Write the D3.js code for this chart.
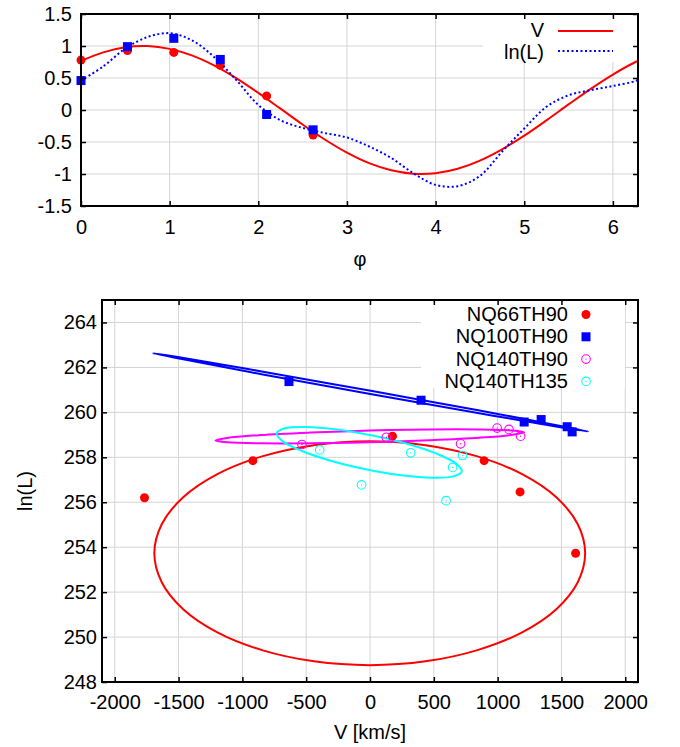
<!DOCTYPE html>
<html>
<head>
<meta charset="utf-8">
<script src="https://cdn.jsdelivr.net/npm/d3@7"></script>
<style>
  body { margin: 0; background: #fff; }
  text { font-family: "Liberation Sans", Arial, sans-serif; font-size: 20px; fill: #000; }
</style>
</head>
<body>
<svg id="chart" width="680" height="747"></svg>
<script>
// ---- top panel: phase curves ----
const phiPts  = [0, 0.524, 1.047, 1.571, 2.094, 2.618];
const vPts    = [0.78, 0.93, 0.90, 0.70, 0.22, -0.39];
const lnLPts  = [0.46, 0.99, 1.12, 0.79, -0.07, -0.31];

const phiCurve = [0, 0.25, 0.5, 0.75, 1, 1.25, 1.5, 1.75, 2, 2.25, 2.5, 2.75, 3, 3.25,
                  3.5, 3.75, 4, 4.25, 4.5, 4.75, 5, 5.25, 5.5, 5.75, 6, 6.25, 6.283];
const vCurve   = [0.765, 0.90, 0.98, 0.999, 0.955, 0.853, 0.697, 0.498, 0.267, 0.021, -0.227,
                  -0.461, -0.666, -0.83, -0.942, -0.996, -0.987, -0.918, -0.791, -0.615, -0.401,
                  -0.162, 0.087, 0.331, 0.554, 0.746, 0.765];
const lnLCurve = [0.46, 0.68, 0.96, 1.14, 1.20, 1.09, 0.83, 0.47, 0.08, -0.16, -0.28, -0.36,
                  -0.43, -0.57, -0.75, -0.99, -1.17, -1.19, -1.03, -0.65, -0.29, 0.05, 0.23,
                  0.31, 0.375, 0.45, 0.47];

const topXTicks = [0, 1, 2, 3, 4, 5, 6];
const topYTicks = [-1.5, -1, -0.5, 0, 0.5, 1, 1.5];

// ---- bottom panel: V vs ln(L) ----
const names = ['NQ66TH90', 'NQ100TH90', 'NQ140TH90', 'NQ140TH135'];
const colors = ['#ff0000', '#0000ff', '#ff00ff', '#00ffff'];

const v66  = [-1767, -918, 176, 894, 1176, 1611];
const l66  = [256.2, 257.85, 258.94, 257.85, 256.46, 253.73];
const v100 = [-635, 400, 1208, 1341, 1545, 1584];
const l100 = [261.37, 260.54, 259.57, 259.68, 259.36, 259.13];
const v140 = [-533, 128, 710, 996, 1089, 1180];
const l140 = [258.57, 258.89, 258.6, 259.3, 259.24, 258.94];
const v135 = [-394, 319, 725, 647, -66, 596];
const l135 = [258.33, 258.2, 258.08, 257.55, 256.77, 256.07];

// fitted loops, points
const ell66V  = [1686, 1628, 1460, 1192, 842, 435, -2, -439, -846, -1196, -1464, -1632,
                 -1690, -1632, -1464, -1196, -846, -439, -2, 435, 842, 1192, 1460, 1628];
const ell66L  = [253.73, 255.02, 256.22, 257.25, 258.04, 258.54, 258.71, 258.54, 258.04, 257.25,
                 256.22, 255.02, 253.73, 252.44, 251.24, 250.21, 249.42, 248.92, 248.75, 248.92,
                 249.42, 250.21, 251.24, 252.44];
const ell100V = [1710, 1480, 855, 2, -851, -1474, -1702, -1472, -849, 6, 859, 1482];
const ell100L = [259.15, 259.35, 259.96, 260.82, 261.70, 262.37, 262.63, 262.43, 261.82, 260.96, 260.08, 259.41];
const ell140V = [1208, 1117, 854, 462, -1, -464, -857, -1120, -1212, -1121, -858, -466, -3, 460, 852, 1116];
const ell140L = [259.11, 259.0, 258.87, 258.76, 258.67, 258.62, 258.62, 258.67, 258.75, 258.86,
                 258.99, 259.10, 259.19, 259.24, 259.24, 259.19];
const ell135V = [719, 654, 487, 247, -33, -309, -538, -686, -731, -666, -500, -259, 21, 297, 526, 674];
const ell135L = [257.37, 257.15, 257.09, 257.2, 257.47, 257.85, 258.29, 258.72, 259.07, 259.29,
                 259.35, 259.24, 258.97, 258.59, 258.15, 257.72];

const botXTicks = [-2000, -1500, -1000, -500, 0, 500, 1000, 1500, 2000];
const botYTicks = [248, 250, 252, 254, 256, 258, 260, 262, 264];

const svg = d3.select('#chart');
const zip = (a, b) => a.map((d, i) => [d, b[i]]);

function panel(cfg) {
  const g = svg.append('g');
  const x = d3.scaleLinear().domain(cfg.xdom).range([cfg.left, cfg.right]);
  const y = d3.scaleLinear().domain(cfg.ydom).range([cfg.bottom, cfg.top]);

  // grid
  g.append('g').selectAll('line').data(cfg.xticks).join('line')
      .attr('x1', d => x(d)).attr('x2', d => x(d))
      .attr('y1', cfg.top).attr('y2', cfg.bottom)
      .attr('stroke', '#d4d4d4').attr('stroke-width', 1);
  g.append('g').selectAll('line').data(cfg.yticks).join('line')
      .attr('x1', cfg.left).attr('x2', cfg.right)
      .attr('y1', d => y(d)).attr('y2', d => y(d))
      .attr('stroke', '#d4d4d4').attr('stroke-width', 1);

  // key background
  g.append('rect').attr('x', cfg.key[0]).attr('y', cfg.key[1])
      .attr('width', cfg.key[2]).attr('height', cfg.key[3]).attr('fill', '#fff');

  const plot = g.append('g');
  const over = g.append('g');

  const fmt = d => String(d);
  const ax = (gen, tx, ty, labels, pad) => {
    const a = over.append('g').attr('transform', `translate(${tx},${ty})`)
      .call(gen.tickSize(-5).tickSizeOuter(0).tickPadding(pad)
        .tickFormat(labels ? fmt : () => ''));
    a.select('.domain').remove();
    a.selectAll('line').attr('stroke', '#000').attr('stroke-width', 1.5);
    a.attr('font-size', null).attr('font-family', null);
    return a;
  };
  ax(d3.axisBottom(x).tickValues(cfg.xticks), 0, cfg.bottom, true, cfg.xpad);
  ax(d3.axisTop(x).tickValues(cfg.xticks), 0, cfg.top, false, 0);
  ax(d3.axisLeft(y).tickValues(cfg.yticks), cfg.left, 0, true, cfg.ypad);
  ax(d3.axisRight(y).tickValues(cfg.yticks), cfg.right, 0, false, 0);

  over.append('rect').attr('x', cfg.left).attr('y', cfg.top)
      .attr('width', cfg.right - cfg.left).attr('height', cfg.bottom - cfg.top)
      .attr('fill', 'none').attr('stroke', '#000').attr('stroke-width', 2);

  return { x, y, plot, over };
}

// ===== top panel =====
const topP = panel({
  left: 81, right: 638, top: 14, bottom: 206,
  xdom: [0, 2 * Math.PI], ydom: [-1.5, 1.5],
  xticks: topXTicks, yticks: topYTicks, xpad: 14, ypad: 9,
  key: [483, 15, 154, 47]
});

const lineT = d3.line().x(d => topP.x(d[0])).y(d => topP.y(d[1])).curve(d3.curveCatmullRom);

topP.plot.append('path').attr('d', lineT(zip(phiCurve, vCurve)))
    .attr('fill', 'none').attr('stroke', '#ff0000').attr('stroke-width', 2);
topP.plot.append('g').selectAll('circle').data(zip(phiPts, vPts)).join('circle')
    .attr('cx', d => topP.x(d[0])).attr('cy', d => topP.y(d[1])).attr('r', 4.5)
    .attr('fill', '#ff0000');
topP.plot.append('path').attr('d', lineT(zip(phiCurve, lnLCurve)))
    .attr('fill', 'none').attr('stroke', '#0000ff').attr('stroke-width', 2)
    .attr('stroke-dasharray', '2,2.5');
topP.plot.append('g').selectAll('rect').data(zip(phiPts, lnLPts)).join('rect')
    .attr('x', d => topP.x(d[0]) - 4.5).attr('y', d => topP.y(d[1]) - 4.5)
    .attr('width', 9).attr('height', 9).attr('fill', '#0000ff');

// key
const keyT = topP.over.append('g');
keyT.append('text').attr('x', 544).attr('y', 36.8).attr('text-anchor', 'end').text('V');
keyT.append('line').attr('x1', 558).attr('x2', 613).attr('y1', 31).attr('y2', 31)
    .attr('stroke', '#ff0000').attr('stroke-width', 2);
keyT.append('text').attr('x', 544).attr('y', 59.2).attr('text-anchor', 'end').text('ln(L)');
keyT.append('line').attr('x1', 558).attr('x2', 613).attr('y1', 51).attr('y2', 51)
    .attr('stroke', '#0000ff').attr('stroke-width', 2).attr('stroke-dasharray', '2,2.5');

svg.append('text').attr('x', 360).attr('y', 266).attr('text-anchor', 'middle').text('φ');

// ===== bottom panel =====
const botP = panel({
  left: 102, right: 638, top: 300, bottom: 682,
  xdom: [-2100, 2100], ydom: [248, 265],
  xticks: botXTicks, yticks: botYTicks, xpad: 13, ypad: 5,
  key: [421, 301, 204, 87]
});

const loop = d3.line().x(d => botP.x(d[0])).y(d => botP.y(d[1]))
    .curve(d3.curveCatmullRomClosed.alpha(0.5));

const loops = [[ell66V, ell66L], [ell100V, ell100L], [ell140V, ell140L], [ell135V, ell135L]];
loops.forEach((l, i) => {
  botP.plot.append('path').attr('d', loop(zip(l[0], l[1])))
      .attr('fill', 'none').attr('stroke', colors[i]).attr('stroke-width', 2);
});

const sets = [[v66, l66], [v100, l100], [v140, l140], [v135, l135]];

function marker(sel, i, cx, cy) {
  if (i === 0) {
    sel.append('circle').attr('cx', cx).attr('cy', cy).attr('r', 4.5).attr('fill', colors[i]);
  } else if (i === 1) {
    sel.append('rect').attr('x', cx - 4.5).attr('y', cy - 4.5).attr('width', 9).attr('height', 9)
       .attr('fill', colors[i]);
  } else {
    sel.append('circle').attr('cx', cx).attr('cy', cy).attr('r', 4.3)
       .attr('fill', 'none').attr('stroke', colors[i]).attr('stroke-width', 1.1);
    sel.append('circle').attr('cx', cx).attr('cy', cy).attr('r', 0.7).attr('fill', colors[i]);
  }
}

sets.forEach((s, i) => {
  const gg = botP.plot.append('g');
  zip(s[0], s[1]).forEach(d => marker(gg, i, botP.x(d[0]), botP.y(d[1])));
});

// key
const keyB = botP.over.append('g');
names.forEach((n, i) => {
  const yy = 321 + i * 22.3;
  keyB.append('text').attr('x', 568).attr('y', yy).attr('text-anchor', 'end').text(n);
  marker(keyB, i, 586, yy - 6.5);
});

svg.append('text').attr('x', 370).attr('y', 739).attr('text-anchor', 'middle').text('V [km/s]');
svg.append('text').attr('transform', 'translate(32,491) rotate(-90)')
    .attr('text-anchor', 'middle').text('ln(L)');
</script>
</body>
</html>
